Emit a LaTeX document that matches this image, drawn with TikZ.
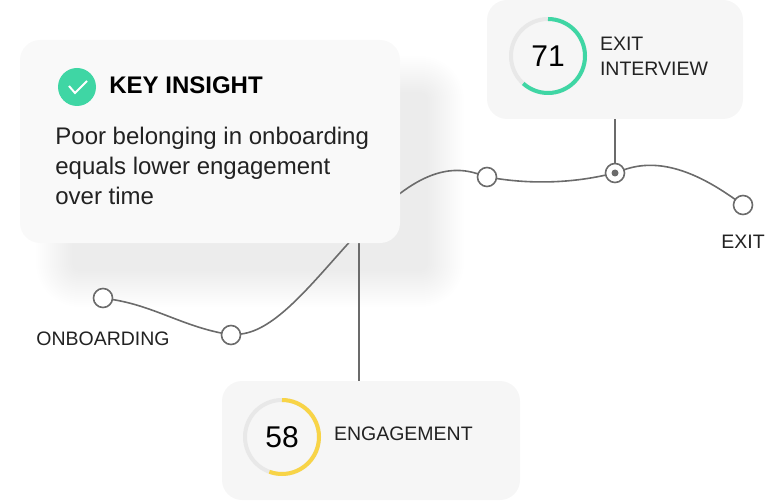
\documentclass[tikz,border=0pt]{standalone}
\usepackage{fontspec}
\setmainfont{Liberation Sans}
\usepackage{tikz}
\pgfdeclarelayer{bg}
\pgfdeclarelayer{lines}
\pgfsetlayers{bg,lines,main}
\definecolor{linegray}{HTML}{6B6B6B}
\definecolor{cardgray}{HTML}{F6F6F6}
\definecolor{insightgray}{HTML}{F9F9F9}
\definecolor{mint}{HTML}{3FD6A4}
\definecolor{sun}{HTML}{F8D447}
\definecolor{track}{HTML}{E8E8E8}
\definecolor{ink}{HTML}{222222}
\tikzset{
    stop/.style={circle, draw=linegray, fill=white, line width=.8pt, minimum size=9.5pt, inner sep=0pt, outer sep=0pt},
    marked/.style={stop, path picture={\fill[linegray] (path picture bounding box.center) circle (1.75pt);}},
    card/.style={rectangle, rounded corners=10pt, fill=cardgray, inner sep=0pt, outer sep=0pt},
    ring/.style={circle, draw=track, line width=2pt, minimum size=37pt, inner sep=0pt, outer sep=0pt, text=black, font=\fontsize{15}{18}\selectfont},
    tag/.style={inner sep=0pt, outer sep=0pt, text=ink, font=\fontsize{9.75}{12.5}\selectfont, align=left},
    trail/.style={draw=linegray, line width=.8pt}
}
\tikzset{every label/.style={tag}}

\begin{document}
\begin{tikzpicture}[x=.5pt, y=-.5pt]
        \useasboundingbox (0,0) rectangle (770,502);
        \node (insight) [card, fill=insightgray, minimum width=190pt, minimum height=101.5pt] at (210,141.5) {};
        \node (exitcard) [card, minimum width=128pt, minimum height=59.5pt] at (615,59.5) {};
        \node (engcard) [card, minimum width=149pt, minimum height=59.5pt] at (371,440.5) {};
        \node (chk) [circle, fill=mint, minimum size=19pt, inner sep=0pt] at (77,87) {};
        \draw[white, line width=1pt] ([shift={(-8,-1)}]chk.center) -- ([shift={(-2,6)}]chk.center) -- ([shift={(10,-6)}]chk.center);
        \node (title) [anchor=base west, inner sep=0pt, text=black, font=\bfseries\fontsize{12}{15}\selectfont] at (109,94) {KEY INSIGHT};
        \node (body) [anchor=north west, inner sep=0pt, text=ink, align=left, font=\fontsize{12}{15}\selectfont] at (55,127) {Poor belonging in onboarding\\equals lower engagement\\over time};
        \node (r71) [ring] at (548,56) {71};
        \node (r58) [ring] at (282,437) {58};
        \draw[mint, line width=2pt] (r71.north) arc[start angle=90, end angle=-132, radius=18.5pt];
        \draw[sun, line width=2pt] (r58.north) arc[start angle=90, end angle=-110, radius=18.5pt];
        \node (exitlbl) [tag, anchor=north west] at (600,37) {EXIT\\INTERVIEW};
        \node (englbl) [tag, anchor=base west] at (334,440) {ENGAGEMENT};
        \node (v1) [stop, label={[label distance=12.25pt]below:ONBOARDING}] at (103,298) {};
        \node (v2) [stop] at (231,335) {};
        \node (v3) [stop] at (487,177) {};
        \node (v4) [marked] at (615,173) {};
        \node (v5) [stop, label={[label distance=10.25pt]below:EXIT}] at (743,205) {};
        \coordinate (tap) at (359,0);
        \begin{pgfonlayer}{bg}
                \foreach \d in {-12,-10,...,24}
                        \fill[black, opacity=.0045, rounded corners=10pt+\d*.5pt] (60-\d,80-\d) rectangle (440+\d,283+\d);
        \end{pgfonlayer}
        \begin{pgfonlayer}{lines}
                \draw[trail] (v1) .. controls +(50,8) and +(-50,-10) .. (v2);
                \draw[trail] (v2) .. controls +(80,-8) and +(-100,-34) .. (v3);
                \draw[trail] (v3) .. controls +(45,7) and +(-45,10) .. (v4);
                \draw[trail] (v4) .. controls +(45,-16) and +(-45,-32) .. (v5);
                \draw[trail] (exitcard) -- (v4);
                \draw[trail] (insight.south -| tap) -- (engcard.north -| tap);
        \end{pgfonlayer}
\end{tikzpicture}
\end{document}
